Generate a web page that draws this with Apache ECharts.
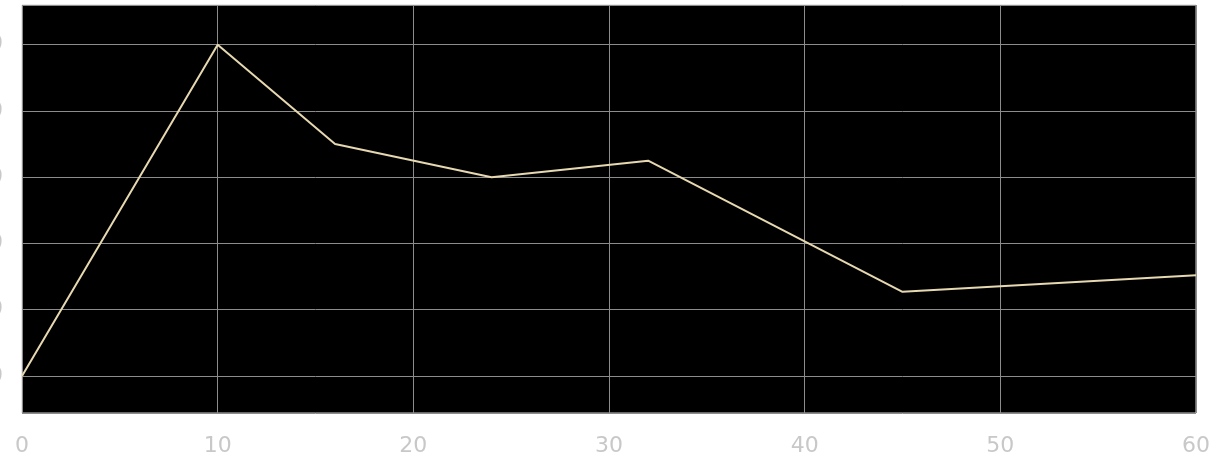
<!DOCTYPE html>
<html>
<head>
<meta charset="utf-8">
<script src="https://cdn.jsdelivr.net/npm/echarts@6/dist/echarts.min.js"></script>
<style>
  html, body { margin: 0; padding: 0; background: #fff; }
  #chart { width: 1210px; height: 462px; }
</style>
</head>
<body>
<div id="chart"></div>
<script>
// time (x) and signal (y)
var xValues = [0, 10, 16, 24, 32, 45, 60];
var yValues = [0, 50, 35, 30, 32.5, 12.7, 15.2];
var xTicks = [0, 10, 20, 30, 40, 50, 60];

var points = xValues.map(function (x, i) { return [x, yValues[i]]; });

var chart = echarts.init(document.getElementById("chart"));
chart.setOption({
  animation: false,
  grid: {
    left: 22,
    right: 14,
    top: 5,
    bottom: 49,
    containLabel: false,
    outerBoundsMode: "none",
    show: true,
    backgroundColor: "#000",
    borderColor: "#d0d0d0",
    borderWidth: 1
  },
  xAxis: {
    type: "value",
    min: xTicks[0],
    max: xTicks[xTicks.length - 1],
    interval: 10,
    axisLine: { show: false },
    axisTick: { show: false },
    axisLabel: {
      color: "#c8c8c8",
      fontSize: 22,
      fontFamily: "DejaVu Sans",
      margin: 22
    },
    splitLine: { show: true, lineStyle: { color: "#8c8c8c", width: 1 } }
  },
  yAxis: {
    type: "value",
    min: -5.6,
    max: 56,
    splitNumber: 5,
    axisLine: { show: false },
    axisTick: { show: false },
    axisLabel: {
      color: "#c8c8c8",
      fontSize: 22,
      fontFamily: "DejaVu Sans",
      margin: 19,
      showMinLabel: false,
      showMaxLabel: false
    },
    splitLine: { show: true, lineStyle: { color: "#8c8c8c", width: 1 } }
  },
  series: [
    {
      type: "line",
      data: points,
      symbol: "none",
      lineStyle: { color: "#e6d8b0", width: 2 }
    }
  ]
});
</script>
</body>
</html>
